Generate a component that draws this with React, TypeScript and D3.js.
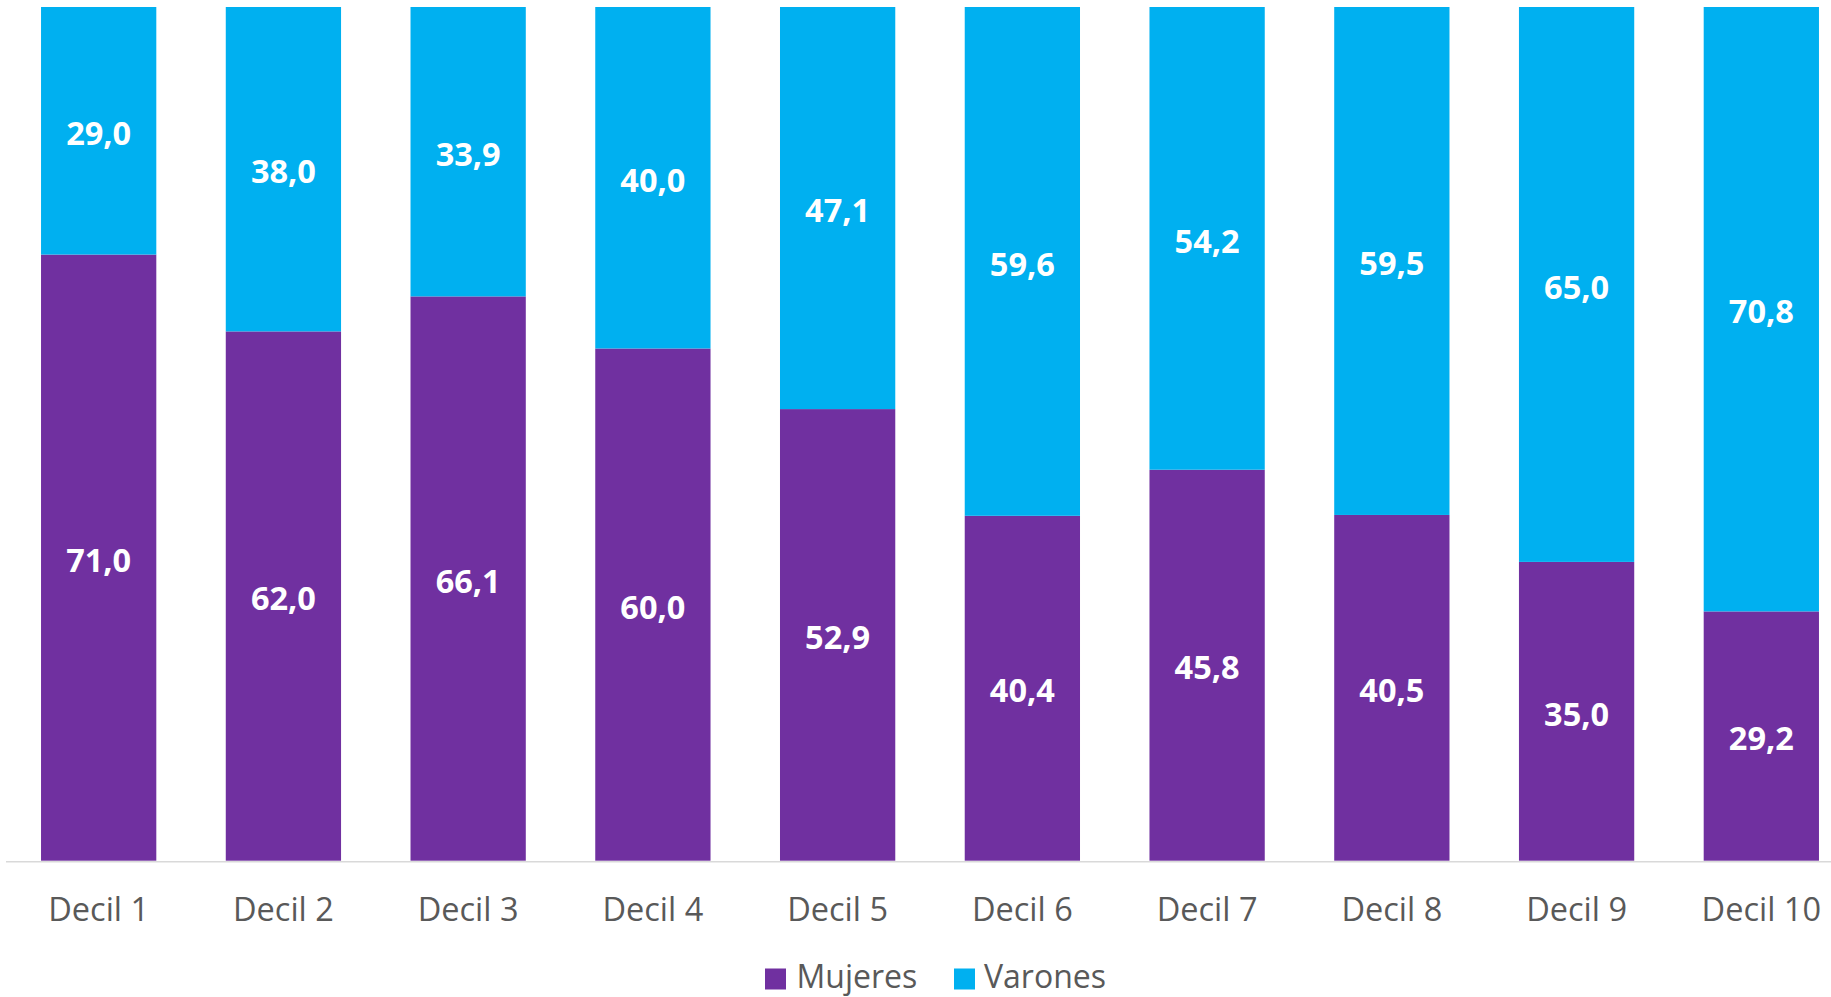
import React from "react";
import * as d3 from "d3";

const categories = ["Decil 1", "Decil 2", "Decil 3", "Decil 4", "Decil 5", "Decil 6", "Decil 7", "Decil 8", "Decil 9", "Decil 10"];
const mujeres = [71.0, 62.0, 66.1, 60.0, 52.9, 40.4, 45.8, 40.5, 35.0, 29.2];
const varones = [29.0, 38.0, 33.9, 40.0, 47.1, 59.6, 54.2, 59.5, 65.0, 70.8];
const seriesNames = ["Mujeres", "Varones"];
const colors = ["#7030A0", "#00B0F0"];

const W = 1831;
const H = 997;

export default function App() {
  const x = d3.scaleBand<string>().domain(categories).range([6.3, 1853.7]).paddingInner(0.376).paddingOuter(0.188);
  const y = d3.scaleLinear().domain([0, 100]).range([860.7, 7]);
  const rows = categories.map((c, i) => ({ cat: c, Mujeres: mujeres[i], Varones: varones[i] }));
  const stack = d3.stack<any>().keys(seriesNames)(rows);
  const fmt = (v: number) => v.toFixed(1).replace(".", ",");
  const font = "'Open Sans', 'Noto Sans', sans-serif";

  return (
    <svg width={W} height={H} style={{ position: "absolute", left: 0, top: 0, background: "#fff" }} fontFamily={font}>
      {stack.map((s, si) => (
        <g key={s.key}>
          {s.map((d, i) => {
            const x0 = x(categories[i])!;
            const y0 = y(d[1]);
            const y1 = y(d[0]);
            return (
              <g key={i}>
                <rect x={x0} y={y0} width={x.bandwidth()} height={y1 - y0} fill={colors[si]} />
                <text
                  x={x0 + x.bandwidth() / 2}
                  y={(y0 + y1) / 2 + 2.5}
                  dy="0.36em"
                  textAnchor="middle"
                  fill="#fff"
                  fontWeight="bold"
                  fontSize={32.5}
                >
                  {fmt(d[1] - d[0])}
                </text>
              </g>
            );
          })}
        </g>
      ))}
      <line x1={6} x2={W} y1={861.7} y2={861.7} stroke="#D9D9D9" strokeWidth={1.5} />
      {categories.map((c) => (
        <text key={c} x={x(c)! + x.bandwidth() / 2} y={920.5} textAnchor="middle" fill="#595959" fontSize={32.5}>
          {c}
        </text>
      ))}
      <g>
        <rect x={765} y={968.5} width={21} height={21} fill={colors[0]} />
        <text x={796.5} y={987.5} fill="#595959" fontSize={32}>{seriesNames[0]}</text>
        <rect x={954} y={968.5} width={21} height={21} fill={colors[1]} />
        <text x={984} y={987.5} fill="#595959" fontSize={32}>{seriesNames[1]}</text>
      </g>
    </svg>
  );
}
